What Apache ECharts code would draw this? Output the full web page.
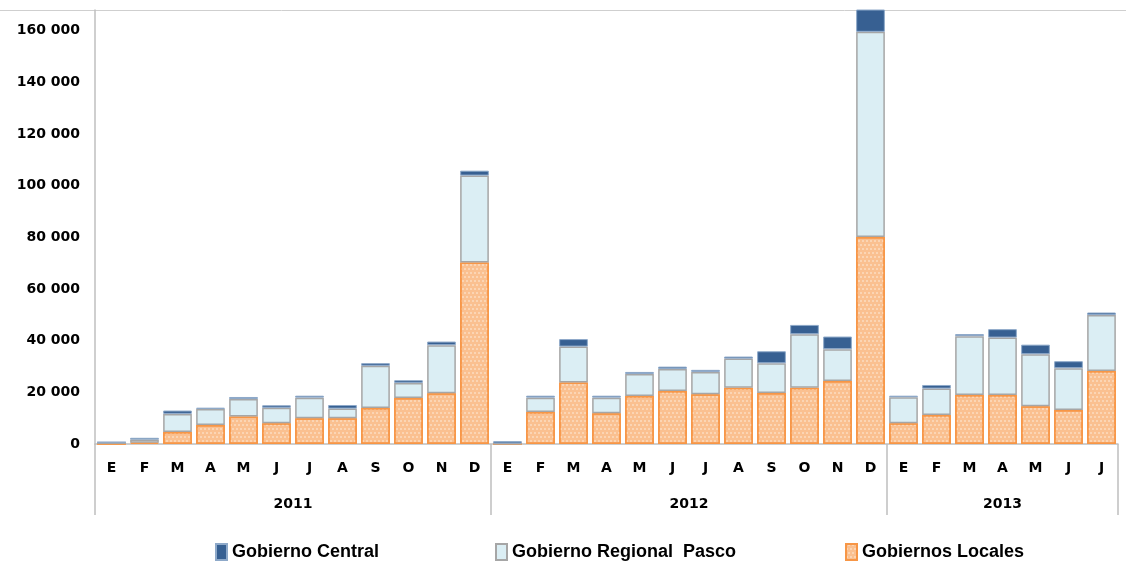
<!DOCTYPE html>
<html lang="es">
<head>
<meta charset="UTF-8">
<title>Transferencias por nivel de gobierno</title>
<script src="https://cdn.jsdelivr.net/npm/echarts@6/dist/echarts.min.js"></script>
<style>
  html, body { margin: 0; padding: 0; background: #fff; }
  #main { width: 1126px; height: 577px; }
</style>
</head>
<body>
<div id="main"></div>
<script>
// datos (soles)
var meses = ['E','F','M','A','M','J','J','A','S','O','N','D',
             'E','F','M','A','M','J','J','A','S','O','N','D',
             'E','F','M','A','M','J','J'];
var anios = ['2011', '2012', '2013'];
var mesesPorAnio = [12, 12, 7];

var locales = [0, 500, 4650, 7360, 10600, 8000, 9950, 9950, 13950, 17830, 19650, 70300,
               0, 12400, 23760, 11900, 18600, 20550, 19250, 21800, 19750, 21800, 24400, 80100,
               8000, 11250, 19000, 19000, 14600, 13200, 28300];
var regional = [700, 1200, 7000, 6200, 6800, 6000, 8000, 3750, 16300, 5800, 18600, 33600,
                200, 5550, 13950, 6050, 8500, 8500, 8650, 11250, 11500, 20700, 12300, 79450,
                10100, 10200, 22750, 22200, 20150, 16150, 21600];
var central = [0, 700, 1300, 500, 800, 1000, 750, 1400, 1050, 1050, 1400, 1900,
               900, 750, 2900, 750, 800, 900, 800, 800, 4650, 3600, 4900, 9500,
               600, 1400, 800, 3250, 3700, 2700, 1000];

// limites y centros de cada anio sobre el eje de meses
var limites = [], centros = [], acum = 0;
for (var i = 0; i < mesesPorAnio.length; i++) {
    limites.push(acum);
    centros.push(acum + mesesPorAnio[i] / 2);
    acum += mesesPorAnio[i];
}

function miles(v) {
    return String(v).replace(/\B(?=(\d{3})+(?!\d))/g, ' ');
}

var myChart = echarts.init(document.getElementById('main'));

var fuente = 'DejaVu Sans';
var legendText = { fontFamily: 'Liberation Sans', fontWeight: 'bold', fontSize: 18, color: '#000' };

function leyenda(nombre, x) {
    return {
        data: [nombre], left: x, top: 538, icon: 'rect',
        itemWidth: 11, itemHeight: 16, textStyle: legendText
    };
}

var option = {
    animation: false,
    backgroundColor: '#fff',
    grid: { left: 95, right: 8, top: 10, bottom: 133 },
    graphic: [{
        type: 'line',
        shape: { x1: 0, y1: 10.5, x2: 1126, y2: 10.5 },
        style: { stroke: '#cfcfcf', lineWidth: 1 }
    }],
    legend: [
        leyenda('Gobierno Central', 210),
        leyenda('Gobierno Regional  Pasco', 490),
        leyenda('Gobiernos Locales', 840)
    ],
    xAxis: [{
        type: 'category',
        data: meses,
        boundaryGap: true,
        axisLine: { lineStyle: { color: '#bfbfbf', width: 1.5 } },
        axisTick: {
            show: true,
            length: 71,
            interval: function (idx) { return limites.indexOf(idx) >= 0; },
            lineStyle: { color: '#bfbfbf', width: 1.5 }
        },
        axisLabel: { interval: 0, margin: 17, fontFamily: fuente, fontWeight: 'bold', fontSize: 14, color: '#000' }
    }, {
        type: 'value',
        position: 'bottom',
        min: 0,
        max: acum,
        interval: 0.5,
        axisLine: { show: false },
        axisTick: { show: false },
        splitLine: { show: false },
        axisLabel: {
            margin: 53,
            fontFamily: fuente, fontWeight: 'bold', fontSize: 14, color: '#000',
            formatter: function (v) {
                var k = centros.indexOf(v);
                return k >= 0 ? anios[k] : '';
            }
        }
    }],
    yAxis: {
        type: 'value',
        min: 0,
        max: 168000,
        interval: 20000,
        axisLine: { show: true, lineStyle: { color: '#bfbfbf', width: 1.5 } },
        axisTick: { show: false },
        splitLine: { show: false },
        axisLabel: {
            showMaxLabel: false,
            margin: 15,
            fontFamily: fuente, fontWeight: 'bold', fontSize: 14, color: '#000',
            formatter: miles
        }
    },
    series: [{
        name: 'Gobiernos Locales',
        type: 'bar',
        stack: 'total',
        barCategoryGap: '13%',
        data: locales,
        itemStyle: {
            color: '#fac090',
            borderColor: '#f79646',
            borderWidth: 1.5,
            decal: {
                symbol: 'circle',
                symbolSize: 0.8,
                color: 'rgba(255,255,255,0.75)',
                dashArrayX: [[2, 2], [0, 2, 2, 0]],
                dashArrayY: [2, 2]
            }
        }
    }, {
        name: 'Gobierno Regional  Pasco',
        type: 'bar',
        stack: 'total',
        data: regional,
        itemStyle: { color: '#dbeef4', borderColor: '#a6a6a6', borderWidth: 1.5 }
    }, {
        name: 'Gobierno Central',
        type: 'bar',
        stack: 'total',
        data: central,
        itemStyle: { color: '#376092', borderColor: '#8ea9c9', borderWidth: 1 }
    }]
};

myChart.setOption(option);
</script>
</body>
</html>
